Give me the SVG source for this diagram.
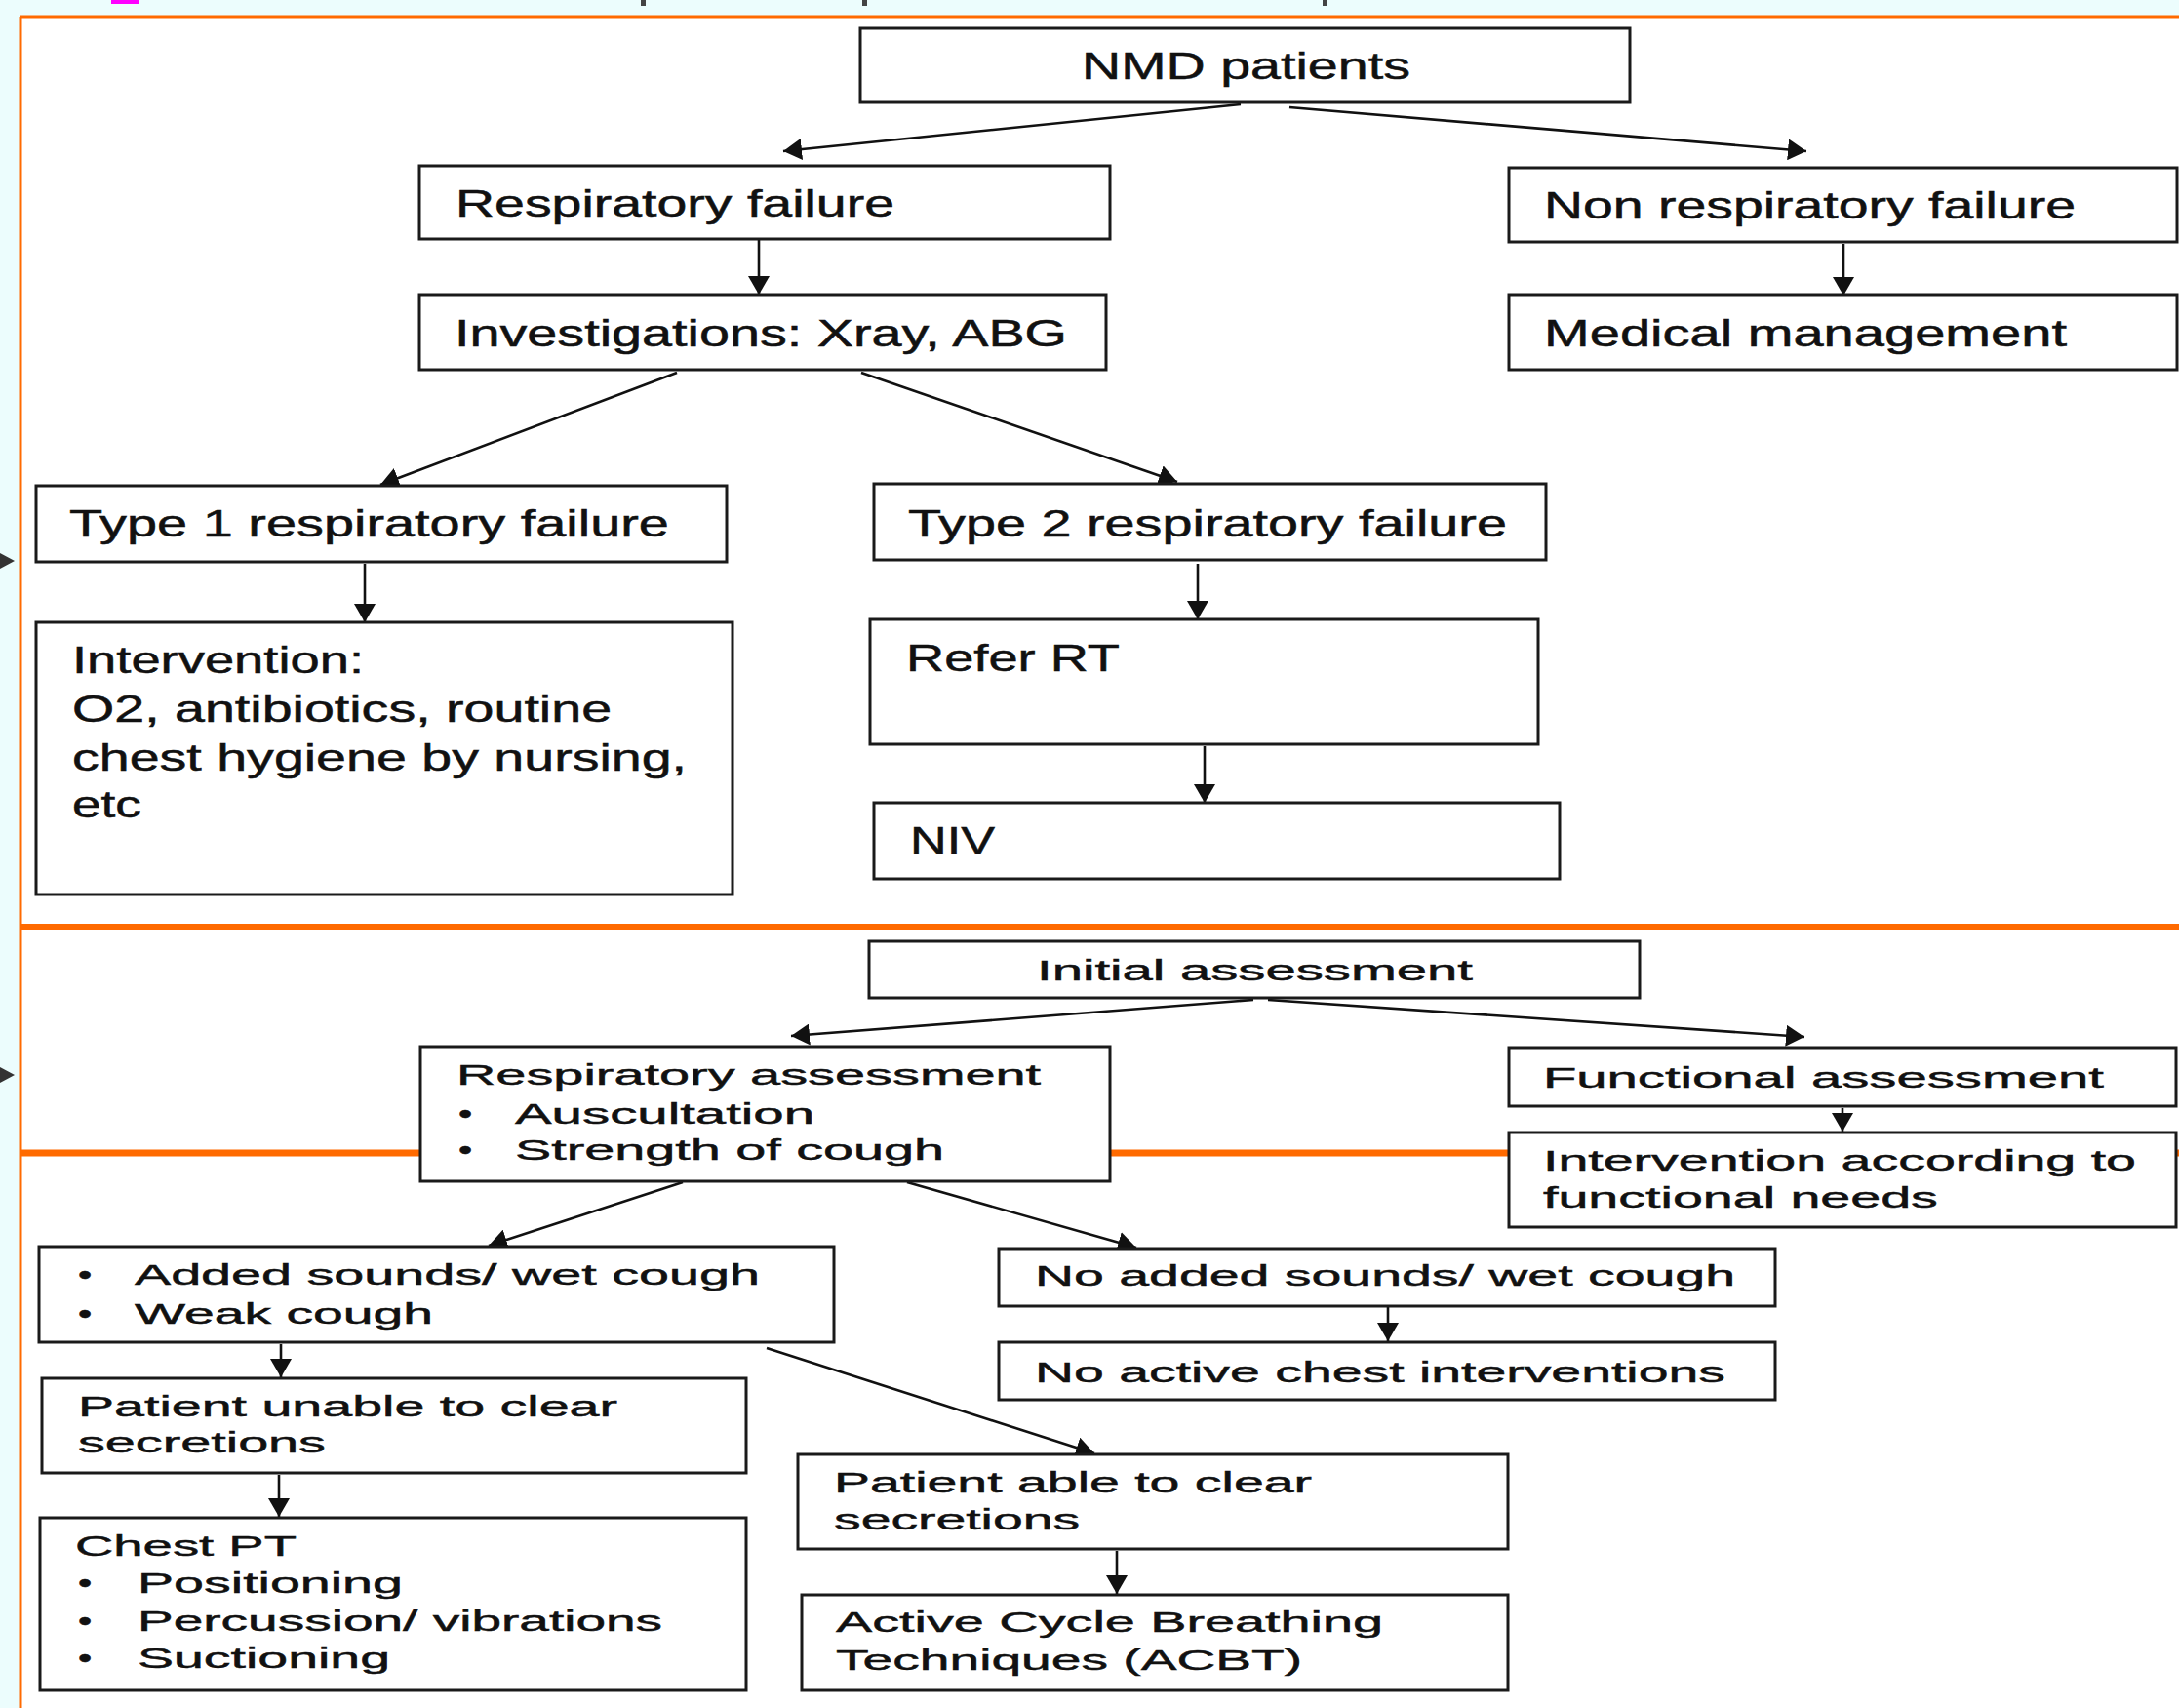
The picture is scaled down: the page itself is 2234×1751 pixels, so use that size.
<svg xmlns="http://www.w3.org/2000/svg" width="2234" height="1751" viewBox="0 0 2234 1751">
<style>
.box{fill:#fff;stroke:#1a1a1a;stroke-width:3}
.t{font-family:"Liberation Sans",Arial,sans-serif;font-size:38px;fill:#111;stroke:#111;stroke-width:0.5}
.s{font-family:"Liberation Sans",Arial,sans-serif;font-size:29px;fill:#111;stroke:#111;stroke-width:0.45}
.c{stroke:#111;stroke-width:2.6;fill:none;marker-end:url(#ah)}
.or{stroke:#ff6a00;fill:none}
</style>
<defs>
<marker id="ah" markerUnits="userSpaceOnUse" markerWidth="19" markerHeight="22" refX="19" refY="11" orient="auto">
<path d="M0,0 L19,11 L0,22 z" fill="#111"/>
</marker>
</defs>
<rect x="0" y="0" width="2234" height="1751" fill="#ecfdfd"/>
<rect x="114" y="0" width="28" height="4" fill="#ff00ff"/>
<rect x="657" y="0" width="5" height="6" fill="#444"/>
<rect x="884" y="0" width="5" height="6" fill="#444"/>
<rect x="1356" y="0" width="5" height="6" fill="#444"/>
<polygon points="0,567 15,575 0,583" fill="#333"/>
<polygon points="0,1094 15,1102 0,1110" fill="#333"/>
<rect x="21" y="17" width="2213" height="1734" fill="#fff"/>
<g id="frame">
<line class="or" x1="20" y1="17" x2="2234" y2="17" stroke-width="3"/>
<line class="or" x1="21" y1="17" x2="21" y2="1751" stroke-width="3"/>
<line class="or" x1="21" y1="950" x2="2234" y2="950" stroke-width="6"/>
<line class="or" x1="21" y1="1182" x2="2234" y2="1182" stroke-width="7"/>
</g>
<g id="connectors">
<line class="c" x1="1272" y1="107" x2="803" y2="155"/>
<line class="c" x1="1322" y1="110" x2="1852" y2="155"/>
<line class="c" x1="778" y1="246" x2="778" y2="302"/>
<line class="c" x1="1890" y1="250" x2="1890" y2="303"/>
<line class="c" x1="694" y1="382" x2="390" y2="497"/>
<line class="c" x1="883" y1="382" x2="1207" y2="494"/>
<line class="c" x1="374" y1="578" x2="374" y2="638"/>
<line class="c" x1="1228" y1="578" x2="1228" y2="635"/>
<line class="c" x1="1235" y1="765" x2="1235" y2="823"/>
<line class="c" x1="1285" y1="1025" x2="811" y2="1062"/>
<line class="c" x1="1300" y1="1025" x2="1850" y2="1063"/>
<line class="c" x1="1889" y1="1136" x2="1889" y2="1160"/>
<line class="c" x1="700" y1="1212" x2="501" y2="1277"/>
<line class="c" x1="930" y1="1212" x2="1165" y2="1279"/>
<line class="c" x1="288" y1="1378" x2="288" y2="1412"/>
<line class="c" x1="286" y1="1512" x2="286" y2="1555"/>
<line class="c" x1="786" y1="1382" x2="1122" y2="1490"/>
<line class="c" x1="1145" y1="1590" x2="1145" y2="1634"/>
<line class="c" x1="1423" y1="1340" x2="1423" y2="1375"/>
</g>
<g id="n-nmd"><rect class="box" x="882" y="29" width="789" height="76"/><text class="t" transform="translate(1109,81) scale(1.46,1)" textLength="230.8" lengthAdjust="spacingAndGlyphs">NMD patients</text></g>
<g id="n-resp"><rect class="box" x="430" y="170" width="708" height="75"/><text class="t" transform="translate(467,222) scale(1.46,1)" textLength="308.2" lengthAdjust="spacingAndGlyphs">Respiratory failure</text></g>
<g id="n-nonresp"><rect class="box" x="1547" y="172" width="685" height="76"/><text class="t" transform="translate(1583,224) scale(1.46,1)" textLength="373.3" lengthAdjust="spacingAndGlyphs">Non respiratory failure</text></g>
<g id="n-invest"><rect class="box" x="430" y="302" width="704" height="77"/><text class="t" transform="translate(466,355) scale(1.46,1)" textLength="430.1" lengthAdjust="spacingAndGlyphs">Investigations: Xray, ABG</text></g>
<g id="n-medical"><rect class="box" x="1547" y="302" width="685" height="77"/><text class="t" transform="translate(1583,355) scale(1.46,1)" textLength="367.1" lengthAdjust="spacingAndGlyphs">Medical management</text></g>
<g id="n-type1"><rect class="box" x="37" y="498" width="708" height="78"/><text class="t" transform="translate(71,550) scale(1.46,1)" textLength="421.2" lengthAdjust="spacingAndGlyphs">Type 1 respiratory failure</text></g>
<g id="n-type2"><rect class="box" x="896" y="496" width="689" height="78"/><text class="t" transform="translate(931,550) scale(1.46,1)" textLength="420.5" lengthAdjust="spacingAndGlyphs">Type 2 respiratory failure</text></g>
<g id="n-interv"><rect class="box" x="37" y="638" width="714" height="279"/>
<text class="t" transform="translate(74,690) scale(1.46,1)" textLength="204.8" lengthAdjust="spacingAndGlyphs">Intervention:</text>
<text class="t" transform="translate(74,740) scale(1.46,1)" textLength="378.8" lengthAdjust="spacingAndGlyphs">O2, antibiotics, routine</text>
<text class="t" transform="translate(74,790) scale(1.46,1)" textLength="431.5" lengthAdjust="spacingAndGlyphs">chest hygiene by nursing,</text>
<text class="t" transform="translate(74,838) scale(1.46,1)" textLength="48.6" lengthAdjust="spacingAndGlyphs">etc</text></g>
<g id="n-refer"><rect class="box" x="892" y="635" width="685" height="128"/><text class="t" transform="translate(929,688) scale(1.46,1)" textLength="150" lengthAdjust="spacingAndGlyphs">Refer RT</text></g>
<g id="n-niv"><rect class="box" x="896" y="823" width="703" height="78"/><text class="t" transform="translate(933,875) scale(1.46,1)" textLength="59.6" lengthAdjust="spacingAndGlyphs">NIV</text></g>
<g id="n-initial"><rect class="box" x="891" y="965" width="790" height="58"/><text class="s" transform="translate(1063,1005) scale(1.93,1)" textLength="231.6" lengthAdjust="spacingAndGlyphs">Initial assessment</text></g>
<g id="n-respassess"><rect class="box" x="431" y="1073" width="707" height="138"/>
<text class="s" transform="translate(468,1112) scale(1.93,1)" textLength="310.4" lengthAdjust="spacingAndGlyphs">Respiratory assessment</text>
<text class="s" transform="translate(470,1152) scale(1.4,1)">•</text><text class="s" transform="translate(528,1152) scale(1.93,1)" textLength="159.1" lengthAdjust="spacingAndGlyphs">Auscultation</text>
<text class="s" transform="translate(470,1189) scale(1.4,1)">•</text><text class="s" transform="translate(528,1189) scale(1.93,1)" textLength="228" lengthAdjust="spacingAndGlyphs">Strength of cough</text></g>
<g id="n-functional"><rect class="box" x="1547" y="1074" width="684" height="60"/><text class="s" transform="translate(1582,1115) scale(1.93,1)" textLength="297.9" lengthAdjust="spacingAndGlyphs">Functional assessment</text></g>
<g id="n-intervfunc"><rect class="box" x="1547" y="1161" width="684" height="97"/>
<text class="s" transform="translate(1582,1200) scale(1.93,1)" textLength="315" lengthAdjust="spacingAndGlyphs">Intervention according to</text>
<text class="s" transform="translate(1582,1238) scale(1.93,1)" textLength="209.8" lengthAdjust="spacingAndGlyphs">functional needs</text></g>
<g id="n-added"><rect class="box" x="40" y="1278" width="815" height="98"/>
<text class="s" transform="translate(80,1317) scale(1.4,1)">•</text><text class="s" transform="translate(138,1317) scale(1.93,1)" textLength="332.1" lengthAdjust="spacingAndGlyphs">Added sounds/ wet cough</text>
<text class="s" transform="translate(80,1357) scale(1.4,1)">•</text><text class="s" transform="translate(138,1357) scale(1.93,1)" textLength="158.5" lengthAdjust="spacingAndGlyphs">Weak cough</text></g>
<g id="n-noadded"><rect class="box" x="1024" y="1280" width="796" height="59"/><text class="s" transform="translate(1061,1318) scale(1.93,1)" textLength="372" lengthAdjust="spacingAndGlyphs">No added sounds/ wet cough</text></g>
<g id="n-noactive"><rect class="box" x="1024" y="1376" width="796" height="59"/><text class="s" transform="translate(1061,1417) scale(1.93,1)" textLength="366.8" lengthAdjust="spacingAndGlyphs">No active chest interventions</text></g>
<g id="n-unable"><rect class="box" x="43" y="1413" width="722" height="97"/>
<text class="s" transform="translate(80,1452) scale(1.93,1)" textLength="286.5" lengthAdjust="spacingAndGlyphs">Patient unable to clear</text>
<text class="s" transform="translate(80,1489) scale(1.93,1)" textLength="131.6" lengthAdjust="spacingAndGlyphs">secretions</text></g>
<g id="n-chestpt"><rect class="box" x="41" y="1556" width="724" height="177"/>
<text class="s" transform="translate(77,1595) scale(1.93,1)" textLength="117.6" lengthAdjust="spacingAndGlyphs">Chest PT</text>
<text class="s" transform="translate(80,1633) scale(1.4,1)">•</text><text class="s" transform="translate(141,1633) scale(1.93,1)" textLength="140.9" lengthAdjust="spacingAndGlyphs">Positioning</text>
<text class="s" transform="translate(80,1672) scale(1.4,1)">•</text><text class="s" transform="translate(141,1672) scale(1.93,1)" textLength="278.8" lengthAdjust="spacingAndGlyphs">Percussion/ vibrations</text>
<text class="s" transform="translate(80,1710) scale(1.4,1)">•</text><text class="s" transform="translate(141,1710) scale(1.93,1)" textLength="134.2" lengthAdjust="spacingAndGlyphs">Suctioning</text></g>
<g id="n-able"><rect class="box" x="818" y="1491" width="728" height="97"/>
<text class="s" transform="translate(855,1530) scale(1.93,1)" textLength="253.9" lengthAdjust="spacingAndGlyphs">Patient able to clear</text>
<text class="s" transform="translate(855,1568) scale(1.93,1)" textLength="130.6" lengthAdjust="spacingAndGlyphs">secretions</text></g>
<g id="n-acbt"><rect class="box" x="822" y="1635" width="724" height="98"/>
<text class="s" transform="translate(857,1673) scale(1.93,1)" textLength="290.7" lengthAdjust="spacingAndGlyphs">Active Cycle Breathing</text>
<text class="s" transform="translate(857,1712) scale(1.93,1)" textLength="247.7" lengthAdjust="spacingAndGlyphs">Techniques (ACBT)</text></g>
</svg>
